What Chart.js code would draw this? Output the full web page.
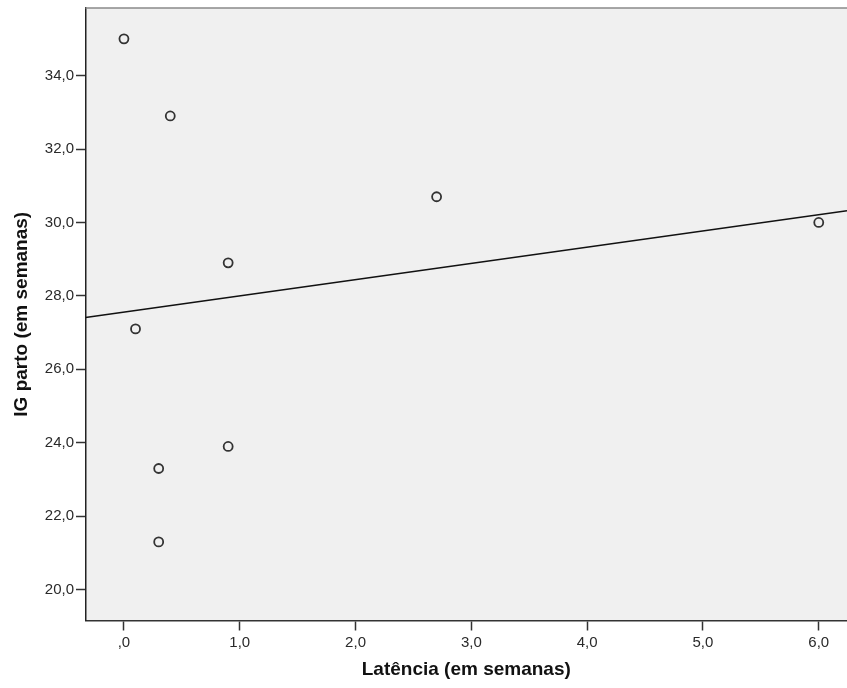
<!DOCTYPE html>
<html>
<head>
<meta charset="utf-8">
<script src="https://cdn.jsdelivr.net/npm/chart.js@4/dist/chart.umd.min.js"></script>
<style>
html,body{margin:0;padding:0;background:#fff;overflow:hidden;}
#wrap{width:847px;height:688px;}
canvas{display:block;}
</style>
</head>
<body>
<div id="wrap"><canvas id="c" width="847" height="688"></canvas></div>
<script>
// Data
const latencia = [0.0, 0.4, 2.7, 6.0, 0.9, 0.1, 0.9, 0.3, 0.3];
const igParto  = [35.0, 32.9, 30.7, 30.0, 28.9, 27.1, 23.9, 23.3, 21.3];
// Fit line end points
const fitX = [-0.332, 6.244];
const fitY = [27.41, 30.32];
// Ticks
const xTickValues = [0, 1, 2, 3, 4, 5, 6];
const xTickLabels = [',0', '1,0', '2,0', '3,0', '4,0', '5,0', '6,0'];
const yTickValues = [20, 22, 24, 26, 28, 30, 32, 34];
const yTickLabels = ['20,0', '22,0', '24,0', '26,0', '28,0', '30,0', '32,0', '34,0'];
const xTitle = 'Latência (em semanas)';
const yTitle = 'IG parto (em semanas)';

const FONT = '"Liberation Sans", Arial, sans-serif';

const bgPlugin = {
  id: 'plotBg',
  beforeDraw(chart) {
    const {ctx, chartArea: a} = chart;
    ctx.save();
    ctx.fillStyle = '#f0f0f0';
    ctx.fillRect(a.left, a.top, a.right - a.left, a.bottom - a.top);
    ctx.restore();
  },
  afterDraw(chart) {
    const {ctx, chartArea: a} = chart;
    ctx.save();
    ctx.strokeStyle = '#8a8a8a';
    ctx.lineWidth = 1.5;
    ctx.beginPath();
    ctx.moveTo(a.left, a.top);
    ctx.lineTo(a.right, a.top);
    ctx.stroke();
    ctx.restore();
  }
};

new Chart(document.getElementById('c'), {
  type: 'scatter',
  data: {
    datasets: [
      {
        label: 'Ajuste',
        type: 'line',
        data: fitX.map((x, i) => ({x, y: fitY[i]})),
        borderColor: '#111',
        borderWidth: 1.5,
        pointRadius: 0,
        fill: false,
        order: 2
      },
      {
        label: 'Observado',
        data: latencia.map((x, i) => ({x, y: igParto[i]})),
        pointRadius: 4.5,
        pointBorderWidth: 1.8,
        pointBorderColor: '#333',
        pointBackgroundColor: 'rgba(0,0,0,0)',
        order: 1
      }
    ]
  },
  options: {
    responsive: false,
    animation: false,
    layout: {autoPadding: false, padding: {top: 8, right: 0, bottom: 0, left: 0}},
    plugins: {legend: {display: false}, tooltip: {enabled: false}},
    scales: {
      x: {
        type: 'linear',
        min: -0.332, max: 6.244,
        afterFit(s) { s.height = 67.5; s.paddingLeft = 0; s.paddingRight = 0; },
        afterBuildTicks(s) { s.ticks = xTickValues.map(v => ({value: v})); },
        ticks: {
          color: '#2a2a2a',
          font: {family: FONT, size: 15},
          padding: 3,
          maxRotation: 0,
          autoSkip: false,
          callback: (v) => { const i = xTickValues.indexOf(v); return i >= 0 ? xTickLabels[i] : ''; }
        },
        grid: {drawOnChartArea: false, drawTicks: true, tickLength: 10, tickColor: '#333', tickWidth: 1.5},
        border: {display: true, color: '#333', width: 1.5},
        title: {display: true, text: xTitle, color: '#111', font: {family: FONT, size: 19, weight: 'bold'}, padding: {top: 0, bottom: 7}}
      },
      y: {
        type: 'linear',
        min: 19.16, max: 35.84,
        afterFit(s) { s.width = 85.5; s.paddingTop = 0; s.paddingBottom = 0; },
        afterBuildTicks(s) { s.ticks = yTickValues.map(v => ({value: v})); },
        ticks: {
          color: '#2a2a2a',
          font: {family: FONT, size: 15},
          padding: 2,
          autoSkip: false,
          callback: (v) => { const i = yTickValues.indexOf(v); return i >= 0 ? yTickLabels[i] : ''; }
        },
        grid: {drawOnChartArea: false, drawTicks: true, tickLength: 9.5, tickColor: '#333', tickWidth: 1.5},
        border: {display: true, color: '#222', width: 1.5},
        title: {display: true, text: yTitle, color: '#111', font: {family: FONT, size: 19, weight: 'bold'}, padding: {top: 10, bottom: 0}}
      }
    }
  },
  plugins: [bgPlugin]
});
</script>
</body>
</html>
